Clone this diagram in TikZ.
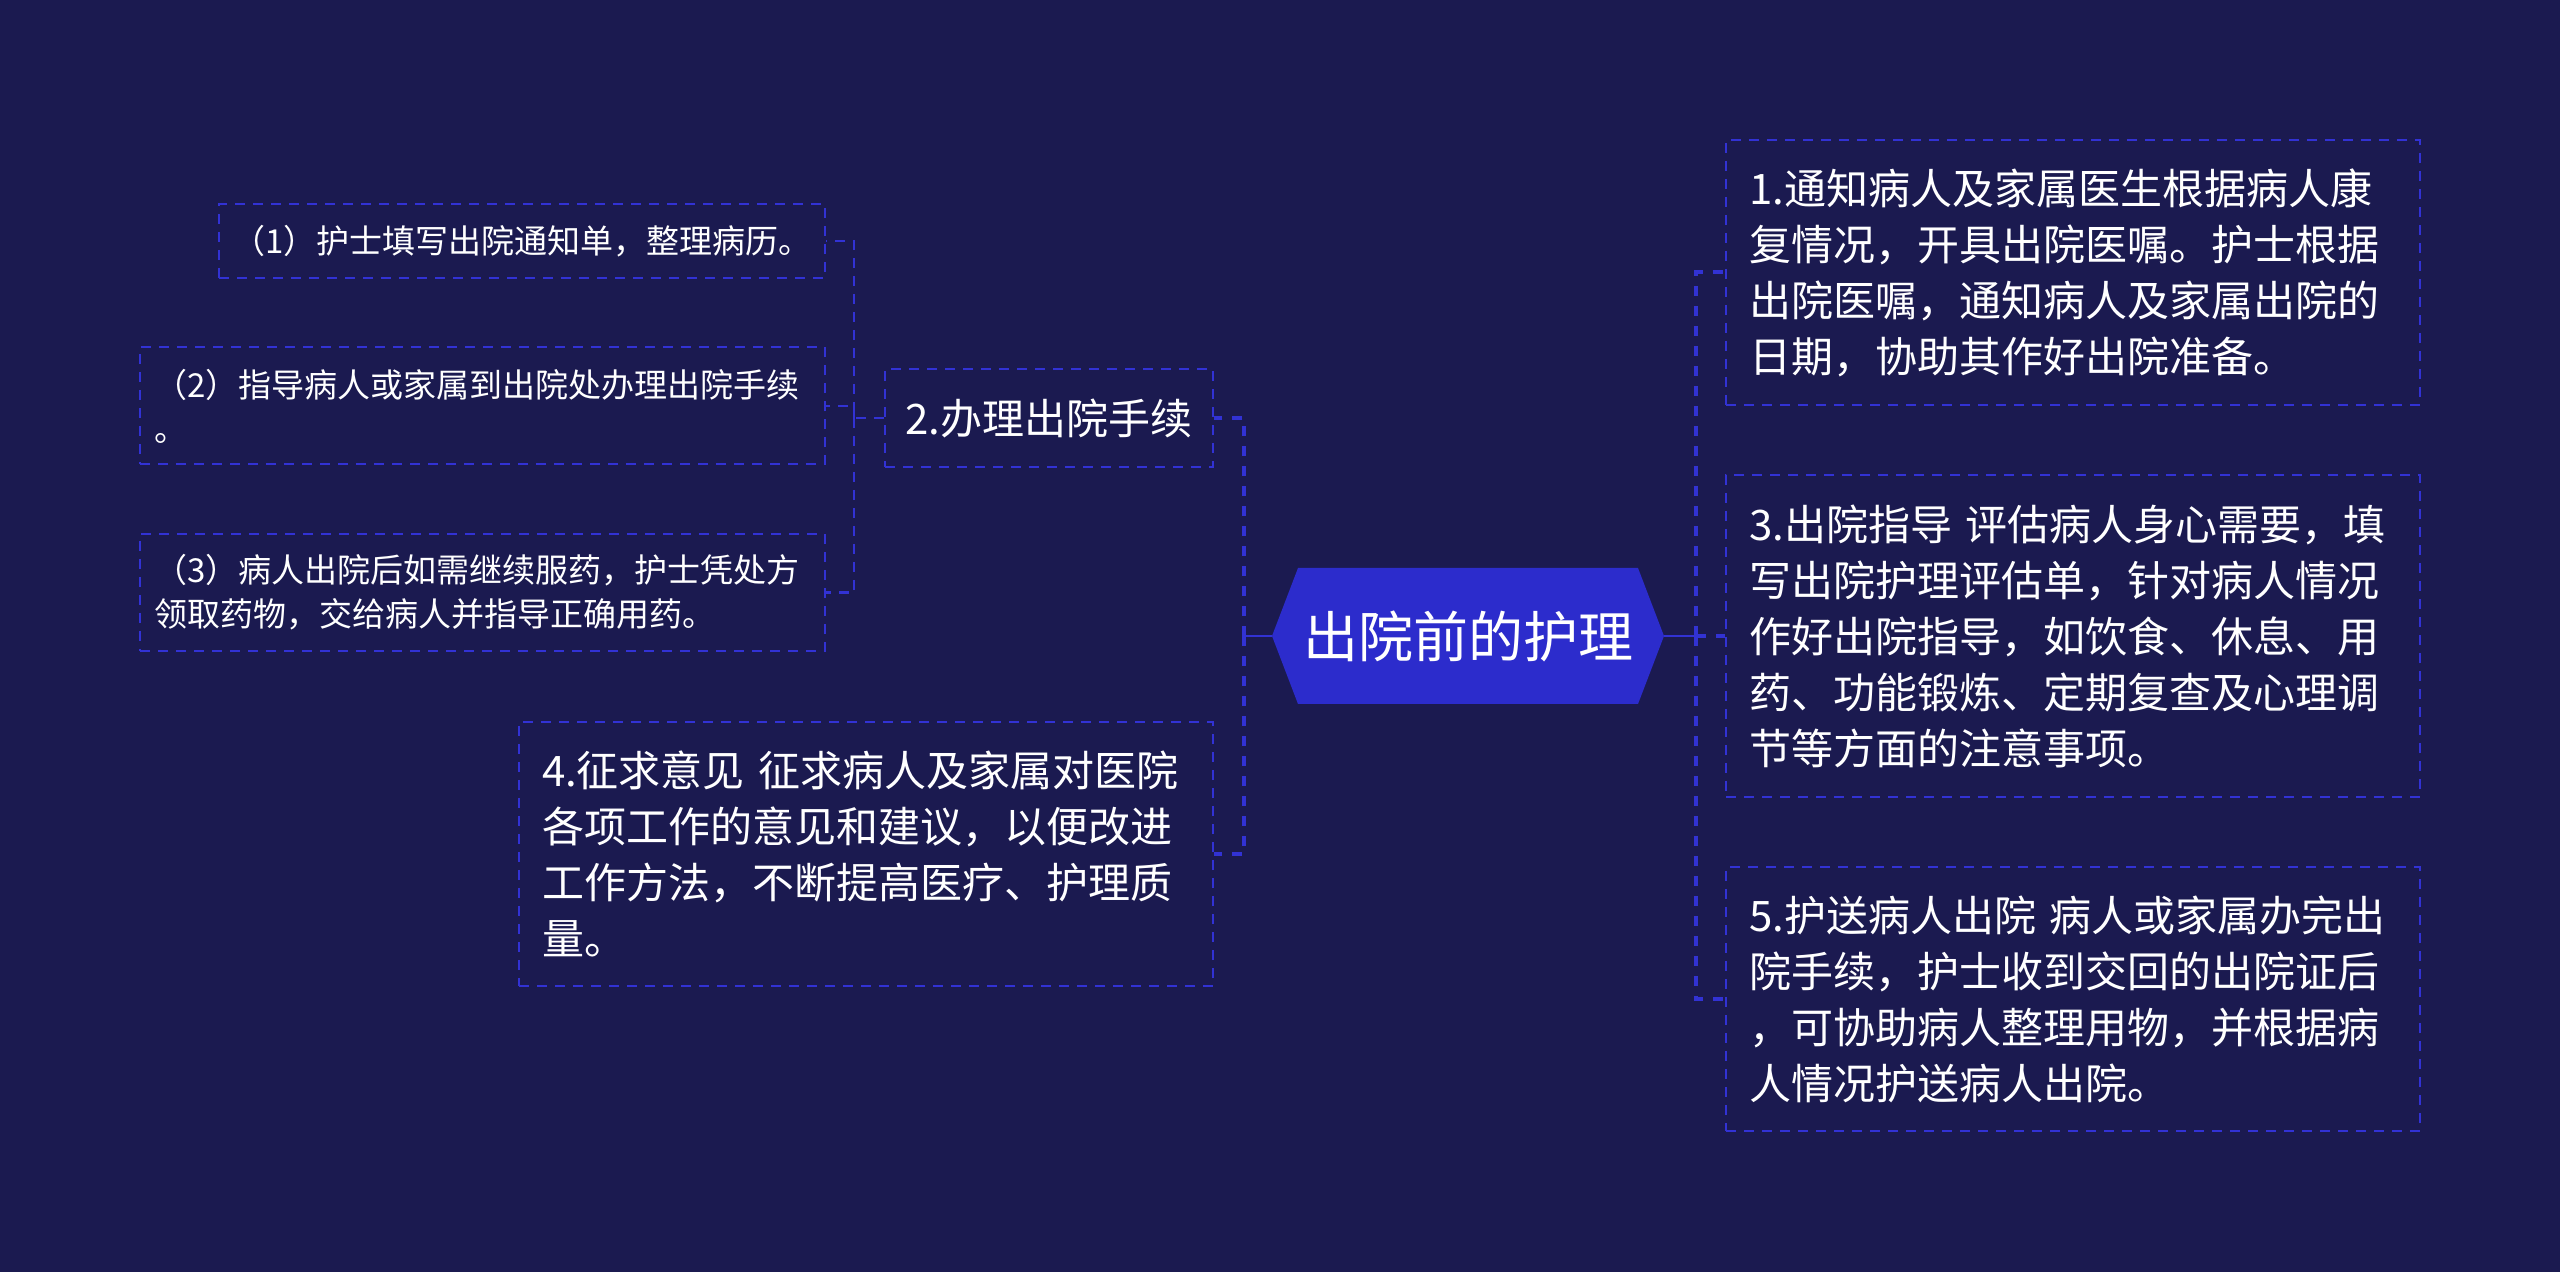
\documentclass[tikz,border=0pt]{standalone}
\usepackage{fontspec}
\setmainfont{Noto Sans CJK SC}
\usetikzlibrary{calc}
\definecolor{bgc}{RGB}{27,26,80}
\definecolor{linec}{RGB}{50,50,212}
\definecolor{hexc}{RGB}{44,44,204}
\begin{document}
\begin{tikzpicture}[x=0.5pt,y=-0.5pt,
  box/.style={draw=linec, line width=1pt, dash pattern=on 5pt off 4pt, text=white, inner ysep=0pt, rectangle},
  big/.style={box, font=\fontsize{21pt}{28pt}\selectfont, text width=324pt, inner xsep=11.5pt, align=left, minimum width=347pt},
  small/.style={box, font=\fontsize{16.5pt}{22pt}\selectfont, align=left, text width=328pt, inner xsep=7.25pt, minimum width=342.5pt},
  conn/.style={draw=linec, line width=2pt, dash pattern=on 5pt off 5pt},
  stub/.style={draw=linec, line width=1.2pt},
  conns/.style={draw=linec, line width=1.3pt, dash pattern=on 5pt off 4pt}]
\fill[bgc] (0,0) rectangle (2560,1272);
% central hexagon
\coordinate (c) at (1468,636);
\coordinate (rootL) at ($(c)+(-196,0)$);
\coordinate (rootR) at ($(c)+(196,0)$);
\fill[hexc] ($(c)+(-170,-68)$) -- ($(c)+(170,-68)$) -- (rootR) -- ($(c)+(170,68)$) -- ($(c)+(-170,68)$) -- (rootL) -- cycle;
\node[inner sep=0pt, text=white, font=\fontsize{27.5pt}{30pt}\selectfont] (root) at (c) {出院前的护理};
% right nodes
\node[big, minimum height=132.5pt] (n1) at (2073,272.5) {1.通知病人及家属医生根据病人康\\复情况，开具出院医嘱。护士根据\\出院医嘱，通知病人及家属出院的\\日期，协助其作好出院准备。};
\node[big, minimum height=161pt] (n3) at (2073,636) {3.出院指导 评估病人身心需要，填\\写出院护理评估单，针对病人情况\\作好出院指导，如饮食、休息、用\\药、功能锻炼、定期复查及心理调\\节等方面的注意事项。};
\node[big, minimum height=132pt] (n5) at (2073,999) {5.护送病人出院 病人或家属办完出\\院手续，护士收到交回的出院证后\\，可协助病人整理用物，并根据病\\人情况护送病人出院。};
% left nodes
\node[big, minimum height=132pt] (n4) at (866,854) {4.征求意见 征求病人及家属对医院\\各项工作的意见和建议，以便改进\\工作方法，不断提高医疗、护理质\\量。};
\node[box, font=\fontsize{21pt}{28pt}\selectfont, minimum width=164pt, minimum height=49pt] (n2) at (1049,418) {2.办理出院手续};
% children of node 2
\node[box, font=\fontsize{16.5pt}{22pt}\selectfont, minimum width=303pt, minimum height=37pt] (c1) at (522,241) {（1）护士填写出院通知单，整理病历。};
\node[small, minimum height=58.5pt] (c2) at (482.5,406) {（2）指导病人或家属到出院处办理出院手续\\。};
\node[small, minimum height=58.5pt] (c3) at (482.5,592.5) {（3）病人出院后如需继续服药，护士凭处方\\领取药物，交给病人并指导正确用药。};
% connectors
\coordinate (jl) at (1244,636);
\coordinate (jr) at (1696,636);
\coordinate (j2) at (854,418);
\draw[stub] (rootL) -- (jl);
\draw[stub] (rootR) -- (jr);
\draw[conn] (jl) |- (n2.east);
\draw[conn] (jl) |- (n4.east);
\draw[conn] (jr) |- (n1.west);
\draw[conn] (jr) |- (n3.west);
\draw[conn] (jr) |- (n5.west);
\draw[conns] (n2.west) -- (j2) |- (c1.east);
\draw[conns] (j2) |- (c2.east);
\draw[conns] (j2) |- (c3.east);
\end{tikzpicture}
\end{document}
